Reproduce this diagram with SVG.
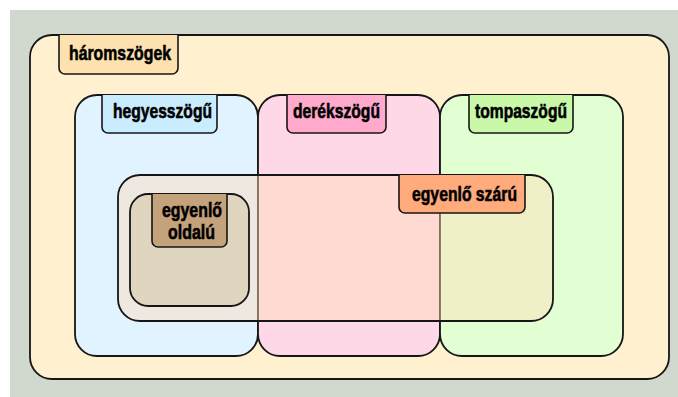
<svg xmlns="http://www.w3.org/2000/svg" width="678" height="397" viewBox="0 0 678 397">
<style>
.box{stroke:#161616;stroke-width:1.8}
.tag{stroke:#161616;stroke-width:1.6}
.lbl{font-family:"Liberation Sans","DejaVu Sans",sans-serif;font-weight:bold;font-size:20.5px;fill:#000;stroke:#000;stroke-width:0.6;text-anchor:middle}
</style>
<rect x="10" y="10" width="668" height="387" fill="#d1d9cf"/>
<g id="haromszogek">
<rect class="box" x="30" y="35" width="639" height="344" rx="22" fill="#fff1cf"/>
<path class="tag" d="M59,35 V68 A6,6 0 0 0 65,74 H172 A6,6 0 0 0 178,68 V35" fill="#fde1ae"/>
<text class="lbl" x="120" y="60" textLength="102" lengthAdjust="spacingAndGlyphs">háromszögek</text>
</g>
<g id="hegyesszogu">
<rect class="box" x="75" y="95" width="183" height="261" rx="22" fill="#e1f3ff"/>
<path class="tag" d="M102,95 V127 A6,6 0 0 0 108,133 H211 A6,6 0 0 0 217,127 V95" fill="#c9ecff"/>
<text class="lbl" x="162.5" y="118" textLength="99" lengthAdjust="spacingAndGlyphs">hegyesszögű</text>
</g>
<g id="derekszogu">
<rect class="box" x="258" y="95" width="182" height="261" rx="22" fill="#ffd8e8"/>
<path class="tag" d="M287,95 V127 A6,6 0 0 0 293,133 H380 A6,6 0 0 0 386,127 V95" fill="#ffaacc"/>
<text class="lbl" x="336.5" y="118" textLength="87" lengthAdjust="spacingAndGlyphs">derékszögű</text>
</g>
<g id="tompaszogu">
<rect class="box" x="440" y="95" width="183" height="261" rx="22" fill="#e1ffd3"/>
<path class="tag" d="M469,95 V127 A6,6 0 0 0 475,133 H567 A6,6 0 0 0 573,127 V95" fill="#c9f9a8"/>
<text class="lbl" x="521" y="118" textLength="92" lengthAdjust="spacingAndGlyphs">tompaszögű</text>
</g>
<g id="egyenlo-szaru">
<rect class="box" x="118" y="175" width="435" height="146" rx="22" fill="#ffddbb" fill-opacity="0.46"/>
<path class="tag" d="M399,175 V207 A6,6 0 0 0 405,213 H519 A6,6 0 0 0 525,207 V175" fill="#ffab7b"/>
<text class="lbl" x="464.5" y="201" textLength="105" lengthAdjust="spacingAndGlyphs">egyenlő szárú</text>
</g>
<g id="egyenlo-oldalu">
<rect class="box" x="130" y="194" width="119" height="112" rx="18" fill="#e0d5bf"/>
<path class="tag" d="M152,194 V241 A6,6 0 0 0 158,247 H221 A6,6 0 0 0 227,241 V194" fill="#c4a27c"/>
<text class="lbl" x="192" y="217" textLength="60" lengthAdjust="spacingAndGlyphs">egyenlő</text>
<text class="lbl" x="191.5" y="239" textLength="47" lengthAdjust="spacingAndGlyphs">oldalú</text>
</g>
<g id="connectors"/>
</svg>
